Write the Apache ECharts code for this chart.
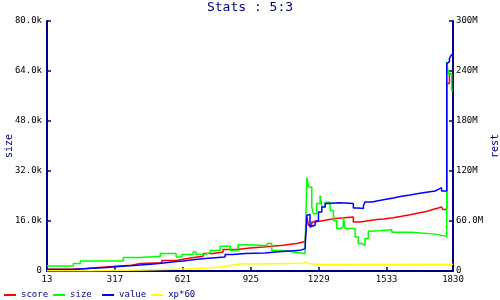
<!DOCTYPE html>
<html><head><meta charset="utf-8">
<script src="https://cdn.jsdelivr.net/npm/echarts@6/dist/echarts.min.js"></script>
<style>html,body{margin:0;padding:0;background:#fff}#c{width:500px;height:300px}</style>
</head><body><div id="c"></div>
<script>
// x tick labels
const xTicks = [13, 317, 621, 925, 1229, 1533, 1830];
const seriesNames = ['score', 'size', 'value', 'xp*60'];
// score (M, right axis)
const score = [[13,2.0],[125,3.0],[192,5.0],[287,6.8],[393,8.9],[430,10.0],[527,12.5],[594,14.0],[623,16.0],[661,17.6],[712,20.9],[757,22.8],[801,25.7],[863,27.6],[922,28.8],[980,30.8],[1070,32.9],[1131,35.3],[1168,36.8],[1176,64.8],[1183,54.8],[1198,58.8],[1213,60.8],[1258,62.9],[1302,63.6],[1332,64.8],[1384,58.8],[1414,59.6],[1436,60.8],[1466,61.7],[1489,62.5],[1520,63.8],[1563,65.6],[1600,67.5],[1638,69.6],[1675,71.5],[1712,73.7],[1740,75.5],[1764,76.8],[1779,77.6],[1785,73.7],[1802,225],[1814,236.5],[1830,236.5]];
// size (k, left axis)
const size = [[13,1.6],[131,2.4],[162,3.2],[354,4.3],[430,4.7],[520,5.6],[591,4.5],[617,5.3],[667,6.1],[680,5.3],[712,5.8],[743,6.6],[788,7.9],[833,6.6],[868,8.4],[922,8.1],[997,8.8],[1019,6.6],[1070,6.1],[1114,5.6],[1168,6.6],[1176,30.0],[1183,26.9],[1198,20.5],[1205,18.3],[1220,21.6],[1235,24.2],[1243,20.5],[1258,22.0],[1280,19.4],[1295,16.2],[1310,13.6],[1325,14.1],[1339,17.3],[1347,13.6],[1377,13.6],[1392,10.9],[1406,8.8],[1422,8.2],[1436,10.4],[1451,12.7],[1459,12.9],[1504,13.2],[1556,12.4],[1645,11.8],[1750,11.4],[1779,11.1],[1802,66.9],[1810,63.0],[1824,57.8],[1830,57.8]];
// value (M, right axis)
const value = [[13,1.7],[125,2.9],[192,4.1],[281,5.3],[333,6.8],[415,8.4],[490,9.6],[534,11.3],[594,12.0],[622,13.7],[676,14.9],[721,16.8],[810,19.7],[846,20.9],[900,21.6],[989,22.8],[1034,24.0],[1101,24.8],[1146,26.9],[1168,28.8],[1176,66.8],[1183,67.7],[1190,52.8],[1198,54.8],[1213,60.0],[1228,70.8],[1243,76.8],[1258,80.9],[1273,82.0],[1317,81.5],[1347,80.9],[1384,75.6],[1406,74.9],[1429,78.0],[1436,82.8],[1468,84.0],[1489,85.7],[1525,87.5],[1563,89.6],[1600,91.2],[1638,92.9],[1675,94.5],[1712,96.0],[1750,98.0],[1764,100.0],[1779,96.0],[1802,249],[1810,251],[1814,255],[1822,259],[1829,260],[1830,260]];
// xp*60 (M, right axis)
const xp60 = [[13,0.2],[207,1.2],[444,2.4],[623,4.0],[757,6.0],[818,8.0],[868,9.0],[900,8.4],[922,8.8],[1025,9.2],[1146,10.0],[1177,8.6],[1190,7.4],[1258,8.0],[1830,8.0]];

const NAVY = '#000080';
const FONT = 'DejaVu Sans Mono';
const chart = echarts.init(document.getElementById('c'), null, {renderer: 'canvas'});
const mk = (name, data, color, yi) => ({
  name, type: 'line', data, yAxisIndex: yi, step: 'end', symbol: 'none',
  lineStyle: {color, width: 1.5}, itemStyle: {color}, animation: false
});
chart.setOption({
  animation: false,
  backgroundColor: '#fff',
  title: {text: 'Stats : 5:3', left: 'center', top: 1, padding: 0,
    textStyle: {fontFamily: FONT, fontSize: 13, fontWeight: 'normal', color: NAVY}},
  legend: {left: 4, top: 289, padding: 0, itemGap: 5, itemWidth: 12, itemHeight: 2, icon: 'rect',
    textStyle: {fontFamily: FONT, fontSize: 9, color: NAVY, width: 27, lineHeight: 12},
    data: seriesNames},
  grid: {left: 47, right: 47, top: 21, bottom: 29, containLabel: false, outerBoundsMode: 'none'},
  xAxis: {type: 'value', min: 13, max: 1830,
    axisLine: {lineStyle: {color: NAVY, width: 2}},
    axisTick: {inside: true, length: 4, customValues: xTicks, lineStyle: {color: NAVY, width: 1.5}},
    axisLabel: {customValues: xTicks, fontFamily: FONT, fontSize: 9, color: '#000', margin: 4,
      formatter: v => String(v)},
    splitLine: {show: false}},
  yAxis: [
    {type: 'value', min: 0, max: 80, interval: 16, position: 'left', name: 'size',
      nameLocation: 'middle', nameGap: 33, nameRotate: 90, nameMoveOverlap: false,
      nameTextStyle: {fontFamily: FONT, fontSize: 10, color: NAVY},
      axisLine: {show: true, lineStyle: {color: NAVY, width: 2}},
      axisTick: {show: true, inside: true, length: 4, lineStyle: {color: NAVY, width: 1.5}},
      axisLabel: {fontFamily: FONT, fontSize: 9, color: '#000', margin: 5,
        formatter: v => v === 0 ? '0' : v.toFixed(1) + 'k'},
      splitLine: {show: false}},
    {type: 'value', min: 0, max: 300, interval: 60, position: 'right', name: 'rest',
      nameLocation: 'middle', nameGap: 37, nameRotate: 90, nameMoveOverlap: false,
      nameTextStyle: {fontFamily: FONT, fontSize: 10, color: NAVY},
      axisLine: {show: true, lineStyle: {color: NAVY, width: 2}},
      axisTick: {show: true, inside: true, length: 4, lineStyle: {color: NAVY, width: 1.5}},
      axisLabel: {fontFamily: FONT, fontSize: 9, color: '#000', margin: 3,
        formatter: v => v === 0 ? '0' : (v < 100 ? v.toFixed(1) + 'M' : v + 'M')},
      splitLine: {show: false}}
  ],
  series: [
    mk('score', score, '#ff0000', 1),
    mk('size', size, '#00ff00', 0),
    mk('value', value, '#0000ff', 1),
    mk('xp*60', xp60, '#ffff00', 1)
  ]
});
</script></body></html>
